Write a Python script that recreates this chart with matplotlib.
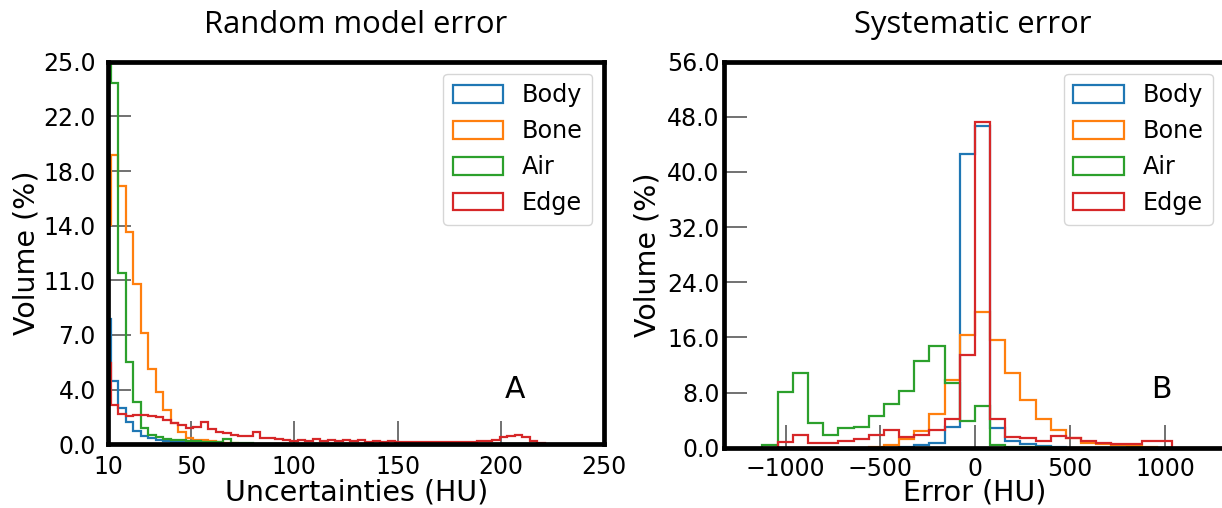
import numpy as np
import matplotlib
matplotlib.use("Agg")
import matplotlib.pyplot as plt

# ---------------- data ----------------
series_names = ["Body", "Bone", "Air", "Edge"]
series_colors = ["#1f77b4", "#ff7f0e", "#2ca02c", "#d62728"]

# Panel A: random model error (HU), bin start / width
a_bin_start = 7.6
a_bin_width = 3.62
a_body = [8.2, 4.16, 2.35, 1.48, 0.9, 0.54, 0.39, 0.3, 0.22, 0.16, 0.12, 0.1, 0.08, 0.06,
          0.05, 0.04, 0.03, 0.02, 0.02, 0.02, 0.02, 0.02, 0.01, 0.01, 0.01, 0.01, 0.01, 0.01,
          0.01, 0.01, 0.01, 0.01, 0.01, 0.01, 0.01, 0.01, 0.01, 0.01, 0.01, 0.01, 0.01, 0.01,
          0.01, 0.01, 0.01, 0.01, 0.01, 0.01, 0.01, 0.01, 0.01, 0.01, 0.01, 0.01, 0.01, 0.01,
          0.01, 0.01, 0.0]
a_bone = [14.3, 18.9, 16.9, 13.85, 10.45, 7.3, 4.95, 3.44, 2.24, 1.37, 0.83, 0.39, 0.3, 0.26,
          0.22, 0.12, 0.08, 0.06, 0.05, 0.04, 0.03, 0.03, 0.02, 0.02, 0.02, 0.01, 0.01, 0.01,
          0.01, 0.01, 0.01, 0.01, 0.01, 0.01, 0.01, 0.01, 0.01, 0.01, 0.01, 0.01, 0.01, 0.01,
          0.01, 0.01, 0.01, 0.01, 0.01, 0.01, 0.01, 0.01, 0.01, 0.01, 0.01, 0.01, 0.01, 0.01,
          0.01, 0.0, 0.0]
a_air = [28.0, 23.6, 11.2, 5.4, 2.75, 1.05, 0.61, 0.46, 0.35, 0.28, 0.28, 0.24, 0.22, 0.18,
         0.17, 0.15, 0.32, 0.1, 0.08, 0.06, 0.05, 0.04, 0.03, 0.03, 0.02, 0.02, 0.02, 0.02,
         0.02, 0.02, 0.02, 0.02, 0.02, 0.02, 0.02, 0.02, 0.02, 0.02, 0.02, 0.02, 0.02, 0.02,
         0.02, 0.02, 0.02, 0.02, 0.02, 0.02, 0.02, 0.02, 0.02, 0.02, 0.02, 0.02, 0.02, 0.02,
         0.01, 0.0, 0.0]
a_edge = [5.3, 2.55, 2.0, 1.85, 1.9, 1.9, 1.85, 1.76, 1.6, 1.37, 1.26, 1.09, 1.1, 1.48,
          1.0, 0.83, 0.72, 0.61, 0.54, 0.54, 0.83, 0.39, 0.39, 0.33, 0.28, 0.24, 0.28, 0.22,
          0.33, 0.22, 0.28, 0.2, 0.28, 0.2, 0.26, 0.18, 0.24, 0.18, 0.2, 0.15, 0.15, 0.15,
          0.15, 0.15, 0.15, 0.15, 0.15, 0.15, 0.15, 0.18, 0.2, 0.2, 0.3, 0.45, 0.55, 0.58,
          0.45, 0.22, 0.1]

# Panel B: systematic error (HU)
b_bin_start = -1122.0
b_bin_width = 80.0
b_body = [0, 0, 0, 0, 0, 0, 0, 0, 0, 0.08, 0.4, 0.7, 3.05, 42.6, 46.7, 2.9, 0.9, 0.55,
          0.25, 0.08, 0, 0, 0, 0, 0, 0, 0]
b_bone = [0, 0, 0, 0, 0, 0, 0, 0.15, 0.43, 1.2, 2.4, 4.9, 9.8, 16.3, 19.7, 15.6, 10.9, 6.9,
          4.1, 2.6, 1.45, 0.75, 0.6, 0.45, 0.2, 0.05, 0]
b_air = [0.35, 8.1, 10.8, 3.55, 1.9, 2.85, 3.0, 4.6, 6.3, 8.25, 12.55, 14.7, 9.35, 3.9, 6.05,
         0.4, 0.15, 0.08, 0.05, 0, 0, 0, 0, 0, 0, 0, 0]
b_edge = [0, 0.8, 1.8, 0.75, 0.75, 0.9, 1.2, 1.8, 2.6, 1.6, 1.9, 2.6, 4.2, 13.5, 47.2, 4.2,
          1.6, 1.35, 0.9, 1.7, 1.45, 0.9, 0.7, 0.6, 0.5, 1.0, 1.0]

a_xticks = [10, 50, 100, 150, 200, 250]
a_ytick_labels = ["0.0", "4.0", "7.0", "11.0", "14.0", "18.0", "22.0", "25.0"]
a_ymax = 25.0
b_xticks = [-1000, -500, 0, 500, 1000]
b_ymax = 56.0

# ---------------- figure ----------------
W, H = 1222, 508
fig = plt.figure(figsize=(W / 100, H / 100), dpi=100)
plt.rcParams['font.family'] = ['DejaVu Sans']

axA = fig.add_axes([108.3 / W, 1 - 444.3 / H, 496 / W, 382.6 / H])
axB = fig.add_axes([724 / W, 1 - 447.7 / H, 501 / W, 386 / H])


def draw(ax, start, width, datasets):
    n = len(datasets[0])
    edges = start + width * np.arange(n + 1)
    centers = 0.5 * (edges[:-1] + edges[1:])
    for name, color, vals in zip(series_names, series_colors, datasets):
        ax.hist(centers, bins=edges, weights=vals, histtype='step',
                color=color, linewidth=1.6, label=name)


draw(axA, a_bin_start, a_bin_width, [a_body, a_bone, a_air, a_edge])
draw(axB, b_bin_start, b_bin_width, [b_body, b_bone, b_air, b_edge])

axA.set_xlim(10, 250)
axA.set_ylim(0, a_ymax)
axA.set_xticks(a_xticks)
axA.set_yticks(np.linspace(0, a_ymax, len(a_ytick_labels)))
axA.set_yticklabels(a_ytick_labels)

axB.set_xlim(-1325, 1317)
axB.set_ylim(0, b_ymax)
axB.set_xticks(b_xticks)
yt = np.linspace(0, b_ymax, 8)
axB.set_yticks(yt)
axB.set_yticklabels([f"{v:.1f}" for v in yt])

for ax, ypad, xpad in [(axA, 9.0, 7.5), (axB, 3.3, 6.5)]:
    for s in ax.spines.values():
        s.set_linewidth(3.4)
        s.set_color('black')
    ax.tick_params(axis='both', direction='in', length=16.3, width=1.2,
                   color='0.35', labelsize=17, top=False, right=False)
    ax.tick_params(axis='y', pad=ypad)
    ax.tick_params(axis='x', pad=xpad)
    ax.legend(loc='upper right', fontsize=17.2, handlelength=2.1,
              handleheight=0.75)

axA.set_xlabel("Uncertainties (HU)", fontsize=20.5)
axA.set_ylabel("Volume (%)", fontsize=20.5)
axB.set_xlabel("Error (HU)", fontsize=20.5)
axB.set_ylabel("Volume (%)", fontsize=20.5)
axA.xaxis.set_label_coords(0.5, -0.0894)
axB.xaxis.set_label_coords(0.5, -0.0798)
axA.yaxis.set_label_coords(-0.136, 0.5)
axB.yaxis.set_label_coords(-0.124, 0.5)

axA.text(0.82, 0.121, "A", transform=axA.transAxes, ha='center',
         va='baseline', fontsize=21.5)
axB.text(0.874, 0.129, "B", transform=axB.transAxes, ha='center',
         va='baseline', fontsize=21.5)

fig.text(356 / W, 1 - 33 / H, "Random model error", ha='center', va='baseline',
         fontsize=22.3, family=['Open Sans', 'DejaVu Sans'])
fig.text(973 / W, 1 - 33 / H, "Systematic error", ha='center', va='baseline',
         fontsize=22.3, family=['Open Sans', 'DejaVu Sans'])

fig.savefig("out.png", dpi=100)
